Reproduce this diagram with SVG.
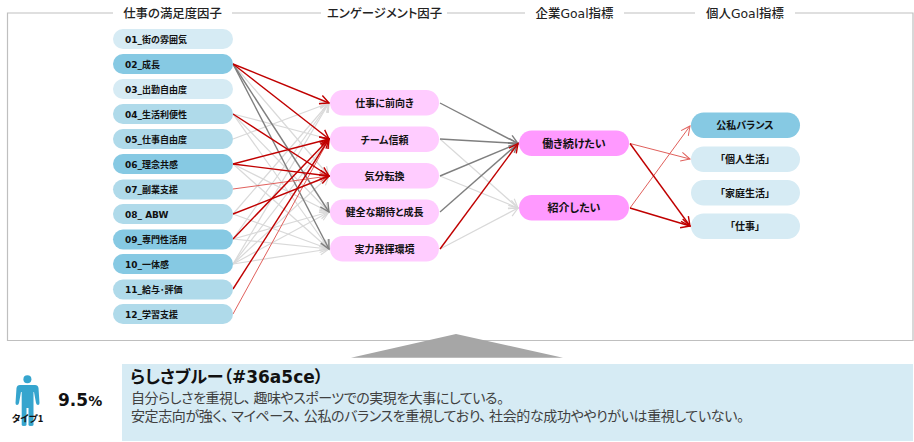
<svg xmlns="http://www.w3.org/2000/svg" width="914" height="442" viewBox="0 0 914 442">
<style>
text{font-family:"DejaVu Sans","Noto Sans CJK JP",sans-serif;font-weight:700;fill:#111}
.head{font-family:"DejaVu Sans","Noto Sans CJK JP",sans-serif;font-size:12.4px;font-weight:500;fill:#222;text-anchor:middle;font-feature-settings:"palt"}
.l{font-size:9px}
.c{text-anchor:middle;font-family:"Noto Sans CJK JP",sans-serif;font-size:10px;font-feature-settings:"palt"}
.g{font-size:11px}
.frame{fill:none;stroke:#bfbfbf;stroke-width:1.2}
.pale{fill:#d6ebf4}.mid{fill:#afdaea}.strong{fill:#86c9e3}.pink{fill:#ffccff}.mag{fill:#ff99ff}
.e{fill:none}
.lg{stroke:#d9d9d9;stroke-width:1.2;marker-end:url(#al)}
.dg{stroke:#7f7f7f;stroke-width:1.4;marker-end:url(#ad)}
.rd{stroke:#c00000;stroke-width:1.4;marker-end:url(#ar)}
.rt{stroke:#e0605c;stroke-width:1;marker-end:url(#at)}
.body{font-family:"Noto Sans CJK JP",sans-serif;font-weight:400;font-size:14px;fill:#404040;font-feature-settings:"palt"}
</style>
<defs>
<marker id="al" markerUnits="userSpaceOnUse" markerWidth="12" markerHeight="12" refX="10" refY="6" orient="auto"><path d="M1 1.500L10 6L1 10.500" fill="none" stroke="#d9d9d9" stroke-width="1.2"/></marker>
<marker id="ad" markerUnits="userSpaceOnUse" markerWidth="12" markerHeight="12" refX="10" refY="6" orient="auto"><path d="M1 1.500L10 6L1 10.500" fill="none" stroke="#7f7f7f" stroke-width="1.4"/></marker>
<marker id="ar" markerUnits="userSpaceOnUse" markerWidth="12" markerHeight="12" refX="10" refY="6" orient="auto"><path d="M1 1.500L10 6L1 10.500" fill="none" stroke="#c00000" stroke-width="1.4"/></marker>
<marker id="at" markerUnits="userSpaceOnUse" markerWidth="12" markerHeight="12" refX="10" refY="6" orient="auto"><path d="M1 1.500L10 6L1 10.500" fill="none" stroke="#e0605c" stroke-width="1"/></marker>
</defs>
<rect width="914" height="442" fill="#fff"/>
<g id="frame">
<path class="frame" d="M113 13H7.500V340.500H913V13H795M695 13H624M525 13H447M321 13H232"/>
<text class="head" x="172.500" y="18">仕事の満足度因子</text>
<text class="head" x="384.500" y="18">エンゲージメント因子</text>
<text class="head" x="574.500" y="18">企業Goal指標</text>
<text class="head" x="745" y="18">個人Goal指標</text>
</g>
<g id="connectors">
<g class="e">
<line class="lg" x1="233" y1="64" x2="329" y2="176"/>
<line class="lg" x1="233" y1="114" x2="329" y2="139"/>
<line class="lg" x1="233" y1="114" x2="329" y2="212"/>
<line class="lg" x1="233" y1="114" x2="329" y2="249"/>
<line class="lg" x1="233" y1="139" x2="329" y2="103"/>
<line class="lg" x1="233" y1="164" x2="329" y2="212"/>
<line class="lg" x1="233" y1="164" x2="329" y2="249"/>
<line class="lg" x1="233" y1="214" x2="329" y2="103"/>
<line class="lg" x1="233" y1="214" x2="329" y2="249"/>
<line class="lg" x1="233" y1="239" x2="329" y2="103"/>
<line class="lg" x1="233" y1="239" x2="329" y2="212"/>
<line class="lg" x1="233" y1="239" x2="329" y2="249"/>
<line class="lg" x1="233" y1="264" x2="329" y2="103"/>
<line class="lg" x1="233" y1="264" x2="329" y2="139"/>
<line class="lg" x1="233" y1="264" x2="329" y2="176"/>
<line class="lg" x1="233" y1="264" x2="329" y2="212"/>
<line class="lg" x1="233" y1="264" x2="329" y2="249"/>
<line class="lg" x1="440" y1="139" x2="518" y2="208"/>
<line class="lg" x1="440" y1="176" x2="518" y2="208"/>
<line class="lg" x1="440" y1="249" x2="518" y2="208"/>
<line class="dg" x1="233" y1="64" x2="329" y2="212"/>
<line class="dg" x1="233" y1="64" x2="329" y2="249"/>
<line class="dg" x1="440" y1="103" x2="518" y2="143.500"/>
<line class="dg" x1="440" y1="139" x2="518" y2="143.500"/>
<line class="dg" x1="440" y1="176" x2="518" y2="143.500"/>
<line class="dg" x1="440" y1="212" x2="518" y2="143.500"/>
<line class="rt" x1="233" y1="189" x2="329" y2="176"/>
<line class="rt" x1="233" y1="314" x2="329" y2="139"/>
<line class="rt" x1="630" y1="143.500" x2="690" y2="159"/>
<line class="rt" x1="630" y1="208" x2="690" y2="126"/>
<line class="rd" x1="233" y1="64" x2="329" y2="103"/>
<line class="rd" x1="233" y1="64" x2="329" y2="139"/>
<line class="rd" x1="233" y1="114" x2="329" y2="176"/>
<line class="rd" x1="233" y1="164" x2="329" y2="139"/>
<line class="rd" x1="233" y1="164" x2="329" y2="176"/>
<line class="rd" x1="233" y1="214" x2="329" y2="176"/>
<line class="rd" x1="233" y1="239" x2="329" y2="139"/>
<line class="rd" x1="233" y1="289" x2="329" y2="139"/>
<line class="rd" x1="440" y1="249" x2="518" y2="143.500"/>
<line class="rd" x1="630" y1="143.500" x2="690" y2="226"/>
<line class="rd" x1="630" y1="208" x2="690" y2="226"/>
</g>
</g>
<g id="n01"><rect class="pale" x="113" y="29" width="120" height="20" rx="10"/><text class="l" x="125" y="42.500">01_街の雰囲気</text></g>
<g id="n02"><rect class="strong" x="113" y="54" width="120" height="20" rx="10"/><text class="l" x="125" y="67.500">02_成長</text></g>
<g id="n03"><rect class="pale" x="113" y="79" width="120" height="20" rx="10"/><text class="l" x="125" y="92.500">03_出勤自由度</text></g>
<g id="n04"><rect class="mid" x="113" y="104" width="120" height="20" rx="10"/><text class="l" x="125" y="117.500">04_生活利便性</text></g>
<g id="n05"><rect class="mid" x="113" y="129" width="120" height="20" rx="10"/><text class="l" x="125" y="142.500">05_仕事自由度</text></g>
<g id="n06"><rect class="strong" x="113" y="154" width="120" height="20" rx="10"/><text class="l" x="125" y="167.500">06_理念共感</text></g>
<g id="n07"><rect class="mid" x="113" y="179.500" width="120" height="20" rx="10"/><text class="l" x="125" y="193">07_副業支援</text></g>
<g id="n08"><rect class="mid" x="113" y="204" width="120" height="20" rx="10"/><text class="l" x="125" y="217.500">08_ ABW</text></g>
<g id="n09"><rect class="strong" x="113" y="229.500" width="120" height="20" rx="10"/><text class="l" x="125" y="243">09_専門性活用</text></g>
<g id="n10"><rect class="strong" x="113" y="254" width="120" height="20" rx="10"/><text class="l" x="125" y="267.500">10_一体感</text></g>
<g id="n11"><rect class="mid" x="113" y="279.500" width="120" height="20" rx="10"/><text class="l" x="125" y="293">11_給与･評価</text></g>
<g id="n12"><rect class="mid" x="113" y="304" width="120" height="20" rx="10"/><text class="l" x="125" y="317.500">12_学習支援</text></g>
<g id="m1"><rect class="pink" x="330" y="90" width="109" height="25.500" rx="12.700"/><text class="c" x="384.500" y="106.500">仕事に前向き</text></g>
<g id="m2"><rect class="pink" x="330" y="126.500" width="109" height="25.500" rx="12.700"/><text class="c" x="384.500" y="143.500">チーム信頼</text></g>
<g id="m3"><rect class="pink" x="330" y="163" width="109" height="25.500" rx="12.700"/><text class="c" x="384.500" y="179.500">気分転換</text></g>
<g id="m4"><rect class="pink" x="330" y="199.500" width="109" height="25.500" rx="12.700"/><text class="c" x="384.500" y="216">健全な期待と成長</text></g>
<g id="m5"><rect class="pink" x="330" y="236" width="109" height="25.500" rx="12.700"/><text class="c" x="384.500" y="253">実力発揮環境</text></g>
<g id="g1"><rect class="mag" x="519" y="130.500" width="110" height="25.500" rx="12.700"/><text class="c g" x="574" y="147.500">働き続けたい</text></g>
<g id="g2"><rect class="mag" x="519" y="195" width="110" height="25.500" rx="12.700"/><text class="c g" x="574" y="212">紹介したい</text></g>
<g id="p1"><rect class="strong" x="691" y="112.500" width="109" height="25.500" rx="12.700"/><text class="c" x="745" y="129">公私バランス</text></g>
<g id="p2"><rect class="pale" x="691" y="146.500" width="109" height="25.500" rx="12.700"/><text class="c" x="745" y="163">「個人生活」</text></g>
<g id="p3"><rect class="pale" x="691" y="180" width="109" height="25.500" rx="12.700"/><text class="c" x="745" y="196.500">「家庭生活」</text></g>
<g id="p4"><rect class="pale" x="691" y="213.500" width="109" height="25.500" rx="12.700"/><text class="c" x="745" y="230">「仕事」</text></g>
<g id="pointer"><polygon points="456,334 563,357.700 351,357.700" fill="#a6a6a6"/></g>
<g id="type">
<circle cx="27.400" cy="379.300" r="4" fill="#36a5ce"/>
<path d="M20 385H35Q38 385 38.500 388L39.500 403Q39.500 405 38 405Q36.500 405 36 403L34 392H33.500V425Q33.500 426 31 426Q28.500 426 28.500 425V408H26.500V425Q26.500 426 24 426Q21.700 426 21.700 425V392H21L19 403Q18.500 405 17 405Q15.500 405 15.500 403L16.500 388Q17 385 20 385Z" fill="#36a5ce"/>
<text x="27.500" y="421.500" text-anchor="middle" font-size="9.500" style="font-family:'Noto Sans CJK JP',sans-serif;font-feature-settings:'palt'">タイプ1</text>
<text x="58" y="406" font-size="17">9.5<tspan font-size="14">%</tspan></text>
</g>
<g id="panel">
<rect x="122" y="364" width="791" height="77" fill="#d6ebf4"/>
<text x="130" y="383" font-size="17" style="font-feature-settings:'palt'">らしさブルー（#36a5ce）</text>
<text class="body" x="131" y="403" textLength="373">自分らしさを重視し、<tspan dx="3">趣味やスポーツでの実現を大事にしている。</tspan></text>
<text class="body" x="131" y="421" textLength="613">安定志向が強く、<tspan dx="3">マイペース、</tspan><tspan dx="3">公私のバランスを重視しており、</tspan><tspan dx="3">社会的な成功ややりがいは重視していない。</tspan></text>
</g>
</svg>
